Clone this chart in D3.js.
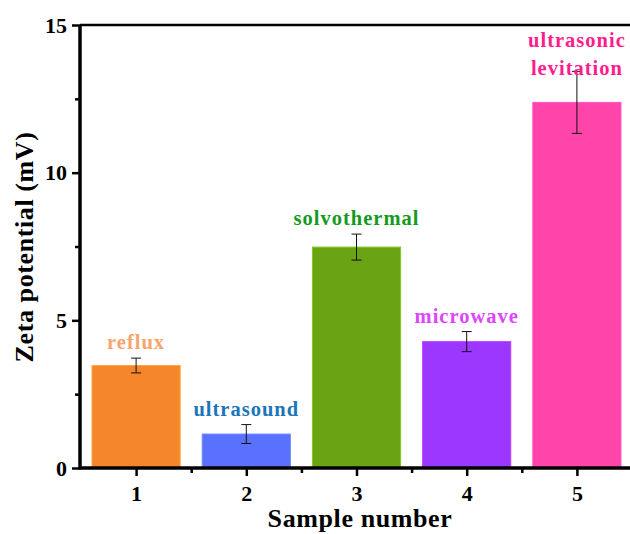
<!DOCTYPE html>
<html>
<head>
<meta charset="utf-8">
<script src="https://cdn.jsdelivr.net/npm/d3@7"></script>
<style>
    body { margin: 0; background: #fff; }
    text { font-family: 'Liberation Serif', 'Times New Roman', serif; font-weight: bold; }
</style>
</head>
<body>
<svg id="chart" width="630" height="534"></svg>
<script>
// data
let samples = [1, 2, 3, 4, 5]
let methods = ['reflux', 'ultrasound', 'solvothermal', 'microwave', 'ultrasonic levitation']
let zeta = [3.47, 1.15, 7.48, 4.28, 12.38]
let zeta_err = [0.25, 0.32, 0.44, 0.34, 1.05]
let bar_colors = ['#F5862C', '#5A70FF', '#6AA313', '#9C37FF', '#FF44AA']
let label_colors = ['#F8A56C', '#1C74BB', '#149A1E', '#DD45FF', '#FF1D8E']
let y_ticks = [0, 5, 10, 15]

let xpad_l = 81
let xpad_r = 632
let ypad_t = 25
let ypad_b = 468

let svg = d3.select('#chart')

let x = d3.scaleLinear()
    .domain([0.5, 5.5])
    .range([xpad_l, xpad_r])

let y = d3.scaleLinear()
    .domain([0, 15])
    .range([ypad_b, ypad_t])

let bar_w = x(0.8) - x(0)

// bars
svg.selectAll('.bar')
    .data(samples)
    .enter()
    .append('rect')
    .classed('bar', true)
    .attr('x', (d, i) => x(d) - bar_w / 2)
    .attr('y', (d, i) => y(zeta[i]))
    .attr('width', bar_w)
    .attr('height', (d, i) => y(0) - y(zeta[i]))
    .attr('fill', (d, i) => bar_colors[i])
    .attr('stroke', (d, i) => d3.color(bar_colors[i]).brighter(0.6))
    .attr('stroke-width', 1)

// error bars
let err = svg.selectAll('.err')
    .data(samples)
    .enter()
    .append('g')
    .classed('err', true)
    .attr('stroke', '#111')
    .attr('stroke-width', 1)

err.append('line')
    .attr('x1', d => x(d)).attr('x2', d => x(d))
    .attr('y1', (d, i) => y(zeta[i] + zeta_err[i]))
    .attr('y2', (d, i) => y(zeta[i] - zeta_err[i]))
err.append('line')
    .attr('x1', d => x(d) - 5).attr('x2', d => x(d) + 5)
    .attr('y1', (d, i) => y(zeta[i] + zeta_err[i]))
    .attr('y2', (d, i) => y(zeta[i] + zeta_err[i]))
err.append('line')
    .attr('x1', d => x(d) - 5).attr('x2', d => x(d) + 5)
    .attr('y1', (d, i) => y(zeta[i] - zeta_err[i]))
    .attr('y2', (d, i) => y(zeta[i] - zeta_err[i]))

// method labels above the bars
svg.selectAll('.method')
    .data(samples)
    .enter()
    .append('text')
    .classed('method', true)
    .attr('text-anchor', 'middle')
    .attr('font-size', 20.5)
    .attr('letter-spacing', 1)
    .attr('fill', (d, i) => label_colors[i])
    .each(function(d, i) {
        let words = methods[i] === 'ultrasonic levitation' ? ['ultrasonic', 'levitation'] : [methods[i]]
        let top = Math.max(zeta[i] + zeta_err[i], zeta[i])
        let base = i === 4 ? 47 : y(top) - 9
        words.forEach((w, k) => {
            d3.select(this).append('tspan')
                .attr('x', x(d))
                .attr('y', base + k * 28)
                .text(w)
        })
    })

// x axis
let x_axis = svg.append('g')
    .attr('transform', `translate(0, ${ypad_b})`)
x_axis.call(d3.axisBottom(x).tickValues(samples).tickFormat(d3.format('d')).tickSize(8).tickPadding(9))
x_axis.selectAll('.tick line').attr('stroke-width', 2.5)
x_axis.selectAll('.tick text').attr('font-size', 22).attr('fill', '#000')
    .style('font-family', "'Liberation Serif', serif").style('font-weight', 'bold')
x_axis.select('.domain').attr('stroke-width', 3.5).attr('d', `M${xpad_l - 1},0H${xpad_r}`)

svg.append('g')
    .attr('transform', `translate(0, ${ypad_b})`)
    .call(d3.axisBottom(x).tickValues([1.5, 2.5, 3.5, 4.5]).tickFormat('').tickSize(5))
    .call(g => g.select('.domain').remove())
    .selectAll('line').attr('stroke-width', 2.5)

// y axis
let y_axis = svg.append('g')
    .attr('transform', `translate(${xpad_l - 1}, 0)`)
y_axis.call(d3.axisLeft(y).tickValues(y_ticks).tickSize(8).tickPadding(5))
y_axis.selectAll('.tick line').attr('stroke-width', 2.5)
y_axis.selectAll('.tick text').attr('font-size', 22).attr('fill', '#000')
    .style('font-family', "'Liberation Serif', serif").style('font-weight', 'bold')
y_axis.select('.domain').attr('stroke-width', 3.5).attr('d', `M0,${ypad_b + 1.5}V${ypad_t}`)

svg.append('g')
    .attr('transform', `translate(${xpad_l - 1}, 0)`)
    .call(d3.axisLeft(y).tickValues([2.5, 7.5, 12.5]).tickFormat('').tickSize(5))
    .call(g => g.select('.domain').remove())
    .selectAll('line').attr('stroke-width', 2.5)

// top frame line
svg.append('line')
    .attr('x1', xpad_l - 1).attr('x2', xpad_r)
    .attr('y1', ypad_t).attr('y2', ypad_t)
    .attr('stroke', '#000')
    .attr('stroke-width', 2.5)

// axis titles
svg.append('text')
    .attr('x', 360)
    .attr('y', 527)
    .attr('text-anchor', 'middle')
    .attr('font-size', 26)
    .attr('letter-spacing', 0.6)
    .text('Sample number')

svg.append('text')
    .attr('transform', `translate(33, 247) rotate(-90)`)
    .attr('text-anchor', 'middle')
    .attr('font-size', 26)
    .attr('letter-spacing', 0.6)
    .text('Zeta potential (mV)')
</script>
</body>
</html>
